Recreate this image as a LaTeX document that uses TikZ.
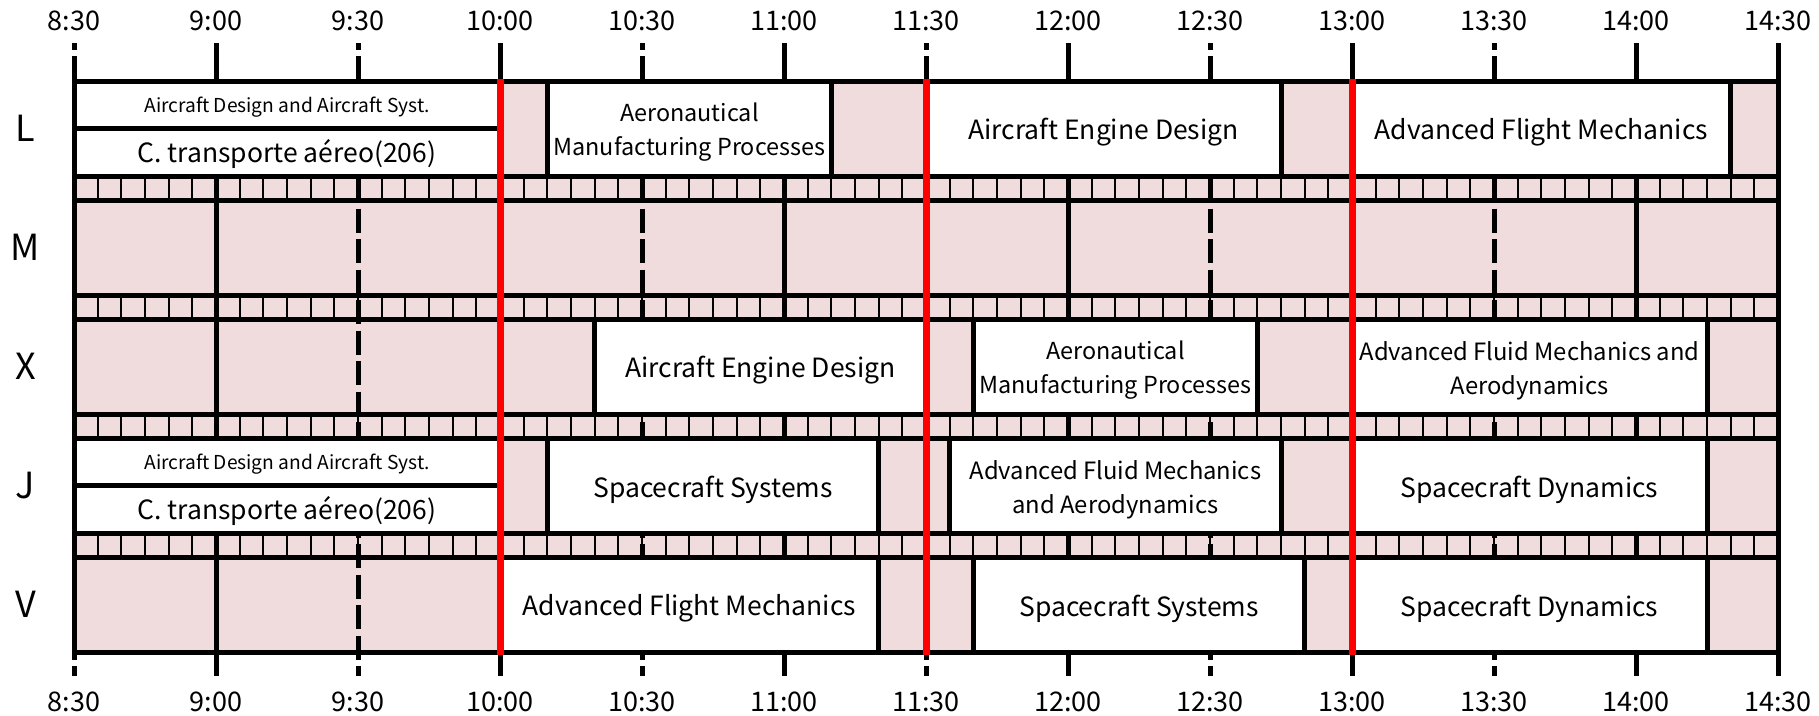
\documentclass[tikz,border=0pt]{standalone}
\usepackage{fontspec}
\setmainfont{Noto Sans CJK JP}
\definecolor{freeslot}{RGB}{240,220,220}
\tikzset{
  gridline/.style={line width=5pt},
  rowline/.style={line width=5pt, line cap=rect},
  halfline/.style={line width=5pt, dash pattern=on 24pt off 6.5pt, dash phase=17.5pt},
  fiveline/.style={line width=2pt},
  course/.style={draw, fill=white, line width=5pt},
  nowline/.style={draw=red, line width=7pt},
  coursetext/.style={align=center, yshift=-2pt},
  bigtext/.style={coursetext, font=\fontsize{26.5}{34}\selectfont},
  smalltext/.style={coursetext, font=\fontsize{19.2}{24}\selectfont},
  timetext/.style={font=\fontsize{27}{30}\selectfont},
  daytext/.style={font=\fontsize{36}{40}\selectfont}
}
\begin{document}
\begin{tikzpicture}[x=284pt, y=-1pt]
\useasboundingbox (8.2394,0) rectangle (14.6444,716);
% free time
\fill[freeslot] (8.5,81) rectangle (14.5,652);
% five minute marks between the days
\foreach \r in {0,...,3}
  \foreach \k in {1,...,71}
    \draw[fiveline] ({8.5+\k/12},{176+119*\r}) -- ({8.5+\k/12},{200+119*\r});
% hours and half hours
\foreach \h in {9,...,14} \draw[gridline] (\h,43) -- (\h,676);
\foreach \h in {8.5,9.5,...,13.5} \draw[halfline] (\h,43) -- (\h,676);
\draw[gridline] (14.5,43) -- (14.5,676);
\draw[gridline] (8.5,81) -- (8.5,652);
% days
\foreach \r in {0,...,4} {
  \draw[rowline] (8.5,{81+119*\r}) -- (14.5,{81+119*\r});
  \draw[rowline] (8.5,{176+119*\r}) -- (14.5,{176+119*\r});
}
% courses
\foreach \r in {0,3} {
  \draw[course] (8.5,{81+119*\r}) rectangle (10,{128.5+119*\r})
    node[pos=.5, smalltext] (ads\r) {Aircraft Design and Aircraft Syst.};
  \draw[course] (8.5,{128.5+119*\r}) rectangle (10,{176+119*\r})
    node[pos=.5, bigtext] (cta\r) {C. transporte aéreo(206)};
}
\foreach \r/\a/\b/\fs/\txt [count=\n] in {
  0/10.1667/11.1667/23.4/{Aeronautical\\Manufacturing Processes},
  0/11.5/12.75/26.5/{Aircraft Engine Design},
  0/13/14.3333/26.5/{Advanced Flight Mechanics},
  2/10.3333/11.5/26.5/{Aircraft Engine Design},
  2/11.6667/12.6667/23.4/{Aeronautical\\Manufacturing Processes},
  2/13/14.25/23.8/{Advanced Fluid Mechanics and\\Aerodynamics},
  3/10.1667/11.3333/26.5/{Spacecraft Systems},
  3/11.5833/12.75/23.8/{Advanced Fluid Mechanics\\and Aerodynamics},
  3/13/14.25/26.5/{Spacecraft Dynamics},
  4/10/11.3333/26.5/{Advanced Flight Mechanics},
  4/11.6667/12.8333/26.5/{Spacecraft Systems},
  4/13/14.25/26.5/{Spacecraft Dynamics}}
  \draw[course] (\a,{81+119*\r}) rectangle (\b,{176+119*\r})
    node[pos=.5, align=center, yshift=-4pt, font=\fontsize{\fs}{34}\selectfont] (c\n) {\txt};
% now lines
\foreach \h in {10,11.5,13} \draw[nowline] (\h,78.5) -- (\h,654.5);
% labels
\foreach \h/\lab [count=\i] in {8.5/8:30,9/9:00,9.5/9:30,10/10:00,10.5/10:30,11/11:00,
    11.5/11:30,12/12:00,12.5/12:30,13/13:00,13.5/13:30,14/14:00,14.5/14:30} {
  \node[timetext] (top\i) at (\h,21) {\lab};
  \node[timetext] (bot\i) at (\h,702) {\lab};
}
\foreach \d [count=\r from 0] in {L,M,X,J,V}
  \node[daytext] (day\d) at (8.329,{128.5+119*\r}) {\d};
\end{tikzpicture}
\end{document}
